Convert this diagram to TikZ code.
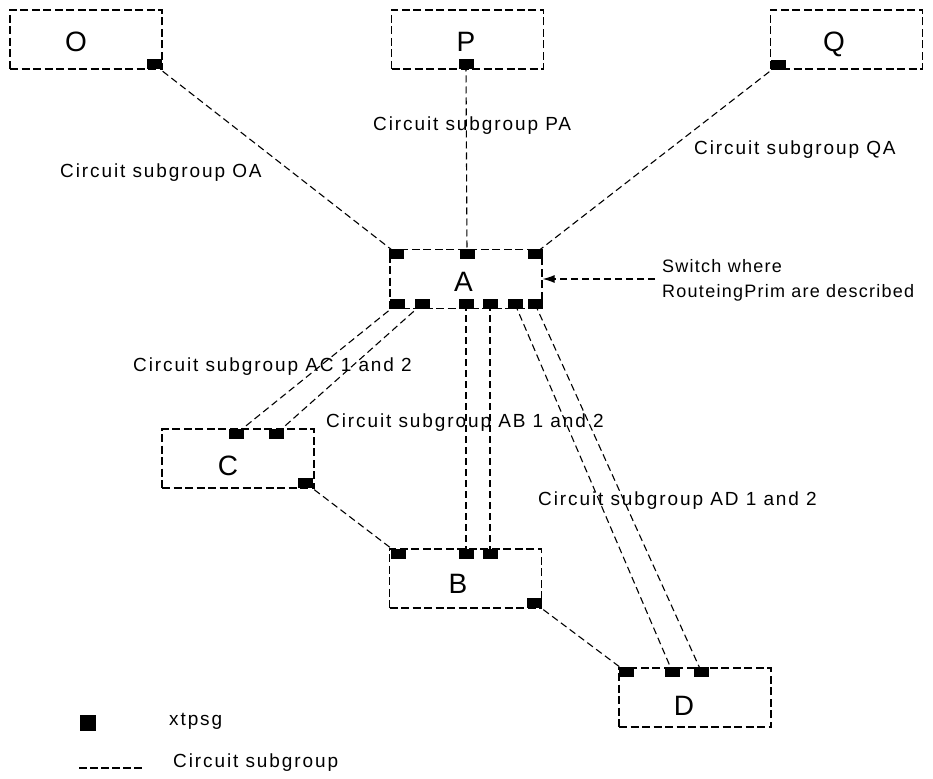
\documentclass[tikz,border=0pt]{standalone}
\usepackage{fontspec}
\setmainfont{Liberation Sans}
\newfontfamily\labfont[LetterSpace=10]{Liberation Sans}
\newfontfamily\notefont[LetterSpace=7]{Liberation Sans}
\usetikzlibrary{backgrounds,arrows.meta}

\begin{document}
\begin{tikzpicture}[x=1pt,y=-1pt,
  box/.style={draw,line width=1.3pt,dash pattern=on 8pt off 3.5pt,
    minimum width=152pt,minimum height=59pt,inner sep=0pt},
  letter/.style={anchor=base,inner sep=0pt,font=\fontsize{28}{30}\selectfont},
  port/.style={fill=black,minimum width=15pt,minimum height=10pt,inner sep=0pt},
  conn/.style={line width=1.1pt,dash pattern=on 7pt off 4pt},
  lab/.style={anchor=base west,inner sep=0pt,font=\labfont\fontsize{19}{22}\selectfont},
  note/.style={anchor=base west,inner sep=0pt,font=\notefont\fontsize{18}{21}\selectfont}]
\useasboundingbox (0,0) rectangle (933,778);

% switches
\node[box] (Obox) at (86,39.5) {};
\node[box] (Pbox) at (467.5,39.5) {};
\node[box] (Qbox) at (846.5,39.5) {};
\node[box] (Abox) at (466,279) {};
\node[box] (Cbox) at (238,458.5) {};
\node[box] (Bbox) at (465.5,578.5) {};
\node[box] (Dbox) at (695,697.5) {};

\node[letter] (Ot) at (76,52) {O};
\node[letter] (Pt) at (466,52) {P};
\node[letter] (Qt) at (834,52) {Q};
\node[letter] (At) at (463.5,291) {A};
\node[letter] (Ct) at (228,475) {C};
\node[letter] (Bt) at (458,593) {B};
\node[letter] (Dt) at (684,715) {D};

% xtpsg ports
\node[port] (o1) at (154,64.5) {};
\node[port] (p1) at (466,64.5) {};
\node[port] (q1) at (778,65) {};
\node[port] (at1) at (396.5,253.5) {};
\node[port] (at2) at (467,253.5) {};
\node[port] (at3) at (535,253.5) {};
\node[port] (ab1) at (397,304) {};
\node[port] (ab2) at (422,304) {};
\node[port] (ab3) at (466,304) {};
\node[port] (ab4) at (490,304) {};
\node[port] (ab5) at (515,304) {};
\node[port] (ab6) at (535,304) {};
\node[port] (c1) at (236.5,433.5) {};
\node[port] (c2) at (276.5,433.5) {};
\node[port] (c3) at (305.5,483) {};
\node[port] (b1) at (398,553.5) {};
\node[port] (b2) at (466,553.5) {};
\node[port] (b3) at (490,553.5) {};
\node[port] (b4) at (534.5,603) {};
\node[port] (d1) at (626.5,672) {};
\node[port] (d2) at (672.5,672) {};
\node[port] (d3) at (701.5,672) {};

% circuit subgroups
\begin{scope}[on background layer]
  \draw[conn] (o1.center) -- (at1.center);
  \draw[conn] (p1.center) -- (at2.center);
  \draw[conn] (q1.center) -- (at3.center);
  \draw[conn] (ab1.center) -- (c1.center);
  \draw[conn] (ab2.center) -- (c2.center);
  \draw[conn] (ab3.center) -- (b2.center);
  \draw[conn] (ab4.center) -- (b3.center);
  \draw[conn] (ab5.center) -- (d2.center);
  \draw[conn] (ab6.center) -- (d3.center);
  \draw[conn] (c3.center) -- (b1.center);
  \draw[conn] (b4.center) -- (d1.center);
\end{scope}

% labels
\node[lab] (lOA) at (60,177) {Circuit subgroup OA};
\node[lab] (lPA) at (373,131) {Circuit subgroup PA};
\node[lab] (lQA) at (694,155) {Circuit subgroup QA};
\node[lab] (lAC) at (133,371) {Circuit subgroup AC 1 and 2};
\node[lab] (lAB) at (326,427) {Circuit subgroup AB 1 and 2};
\node[lab] (lAD) at (538,505) {Circuit subgroup AD 1 and 2};
\node[note] (sw1) at (662,272) {Switch where};
\node[note] (sw2) at (662,297) {RouteingPrim are described};

\coordinate (arrtail) at (655,279);
\draw[conn,-{Latex[length=12pt,width=8pt]}] (arrtail) -- (Abox.east);

% legend
\node[fill=black,minimum size=16pt,inner sep=0pt] (legport) at (88,723) {};
\node[lab] (legporttext) at (169,725) {xtpsg};
\coordinate (lg1) at (79,768);
\coordinate (lg2) at (143,768);
\draw[line width=1.3pt,dash pattern=on 8pt off 3pt] (lg1) -- (lg2);
\node[lab] (leglinetext) at (173,767) {Circuit subgroup};
\end{tikzpicture}
\end{document}
